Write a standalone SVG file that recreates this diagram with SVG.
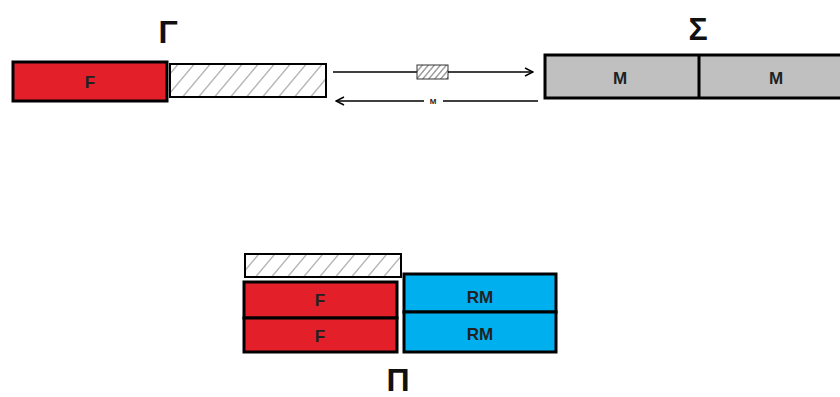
<svg xmlns="http://www.w3.org/2000/svg" width="840" height="397" viewBox="0 0 840 397">
<defs>
<pattern id="hatch" patternUnits="userSpaceOnUse" width="16" height="16" patternTransform="skewX(-40)">
<line x1="8" y1="0" x2="8" y2="16" stroke="#777" stroke-width="1"/>
</pattern>
<pattern id="hatchS" patternUnits="userSpaceOnUse" width="6" height="6" patternTransform="skewX(-40)">
<line x1="3" y1="0" x2="3" y2="6" stroke="#444" stroke-width="1"/>
</pattern>
<marker id="arr" viewBox="0 0 10 10" refX="9" refY="5" markerWidth="10" markerHeight="10" markerUnits="userSpaceOnUse" orient="auto">
<path d="M1,1 L9,5 L1,9" fill="none" stroke="#000" stroke-width="1.5"/>
</marker>
</defs>
<style>
.box{stroke:#000;stroke-width:3}
.red{fill:#e3202a}
.blue{fill:#00b0ee}
.gray{fill:#c0c0c0}
.hat{fill:url(#hatch);stroke:#000;stroke-width:2}
.lbl{font-family:"Liberation Sans",Arial,sans-serif;font-weight:bold;font-size:17px;fill:#222;text-anchor:middle}
.big{font-family:"Liberation Sans",Arial,sans-serif;font-weight:bold;font-size:32px;fill:#111;text-anchor:middle}
.ln{stroke:#000;stroke-width:1.5;fill:none}
</style>
<rect width="840" height="397" fill="#fff"/>
<g id="gamma">
<text class="big" x="168" y="43">Γ</text>
<rect class="box red" x="13" y="62" width="154" height="39"/>
<text class="lbl" x="90" y="88">F</text>
<rect class="hat" x="170" y="64" width="156" height="33"/>
</g>
<g id="sigma">
<text class="big" x="698" y="40">Σ</text>
<rect class="box gray" x="545" y="55" width="310" height="43"/>
<line class="box" x1="699" y1="55" x2="699" y2="98"/>
<text class="lbl" x="620" y="84">M</text>
<text class="lbl" x="776" y="84">M</text>
</g>
<g id="connectors">
<line class="ln" x1="333" y1="72" x2="417" y2="72"/>
<rect x="417" y="65" width="31" height="14" fill="url(#hatchS)" stroke="#333" stroke-width="1"/>
<line class="ln" x1="448" y1="72" x2="533" y2="72" marker-end="url(#arr)"/>
<line class="ln" x1="538" y1="101" x2="443" y2="101"/>
<text x="433" y="104" font-family="Liberation Sans,Arial,sans-serif" font-weight="bold" font-size="8" text-anchor="middle" fill="#222">M</text>
<line class="ln" x1="424" y1="101" x2="336" y2="101" marker-end="url(#arr)"/>
</g>
<g id="pi">
<rect class="hat" x="245" y="254" width="156" height="23"/>
<rect class="box red" x="244" y="282" width="153" height="36"/>
<rect class="box red" x="244" y="318" width="153" height="34"/>
<text class="lbl" x="320" y="306">F</text>
<text class="lbl" x="320" y="342">F</text>
<rect class="box blue" x="404" y="274" width="152" height="38"/>
<rect class="box blue" x="404" y="312" width="152" height="40"/>
<text class="lbl" x="480" y="303">RM</text>
<text class="lbl" x="480" y="340">RM</text>
<text class="big" x="398" y="391">Π</text>
</g>
</svg>
